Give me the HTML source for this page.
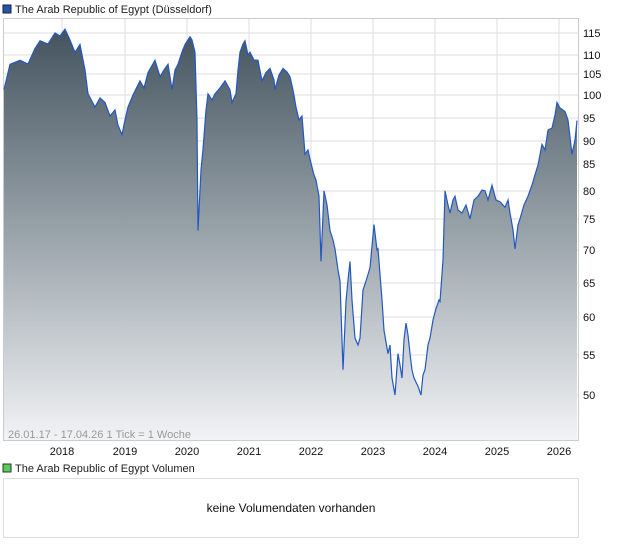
<!DOCTYPE html><html><head><style>body{margin:0;background:#fff;font-family:"Liberation Sans",sans-serif}</style></head><body>
<svg width="620" height="546" xmlns="http://www.w3.org/2000/svg" font-family="Liberation Sans, sans-serif">
<defs><linearGradient id="g" x1="0" y1="30" x2="0" y2="441" gradientUnits="userSpaceOnUse"><stop offset="0" stop-color="#44545f"/><stop offset="0.5" stop-color="#9aa4ab"/><stop offset="1" stop-color="#f2f3f5"/></linearGradient></defs>
<rect x="3" y="5" width="8" height="8" fill="#2255aa" stroke="#123"/>
<text x="15" y="13" font-size="11" fill="#222">The Arab Republic of Egypt (Düsseldorf)</text>
<rect x="3.5" y="18.5" width="575" height="422" fill="#fff" stroke="#ccc"/>
<g stroke="#ddd" stroke-width="1">
<line x1="62" y1="19" x2="62" y2="440"/><line x1="125" y1="19" x2="125" y2="440"/><line x1="187" y1="19" x2="187" y2="440"/><line x1="249" y1="19" x2="249" y2="440"/><line x1="311" y1="19" x2="311" y2="440"/><line x1="373" y1="19" x2="373" y2="440"/><line x1="435" y1="19" x2="435" y2="440"/><line x1="497" y1="19" x2="497" y2="440"/><line x1="559" y1="19" x2="559" y2="440"/>
<line x1="4" x2="578" y1="33" y2="33"/><line x1="4" x2="578" y1="55" y2="55"/><line x1="4" x2="578" y1="74" y2="74"/><line x1="4" x2="578" y1="95" y2="95"/><line x1="4" x2="578" y1="118" y2="118"/><line x1="4" x2="578" y1="141" y2="141"/><line x1="4" x2="578" y1="164" y2="164"/><line x1="4" x2="578" y1="191" y2="191"/><line x1="4" x2="578" y1="219" y2="219"/><line x1="4" x2="578" y1="250" y2="250"/><line x1="4" x2="578" y1="283" y2="283"/><line x1="4" x2="578" y1="317" y2="317"/><line x1="4" x2="578" y1="355" y2="355"/><line x1="4" x2="578" y1="395" y2="395"/>
</g>
<path id="p" d="M4,89.5 L10,64.3 L20,60.3 L28,64 L35,48.5 L40,40.7 L48,44 L55,33 L60,36 L65,29.2 L70,40 L75,52.3 L80,44.5 L85,70 L88,93.8 L95,107 L100,98 L105,102.5 L110,116 L115,110 L118,125.2 L122,134.7 L125,120 L128,107 L133,95 L140,80.9 L144,88 L148,72.6 L155,60.3 L158,70 L160,76.7 L164,70 L168,64.3 L172,89.5 L175,70 L178,64.3 L182,52 L185,44.5 L190,36.7 L192,40 L195,52.3 L197,120 L198,230.5 L201,170 L203,149.3 L206,110 L208,93.8 L212,100 L215,93.8 L220,88 L225,80.9 L230,90 L232,102.5 L236,93.8 L238,70 L240,52.3 L243,44 L245,40.7 L248,55 L250,52.3 L254,60 L258,60.3 L262,80.9 L266,72.6 L270,68.4 L274,80 L275,89.5 L279,75 L283,68.4 L287,72 L290,76.7 L293,90 L296,107 L299,120 L302,116 L305,154.2 L308,150 L310,159.2 L314,175 L316,180 L319,196.2 L321,261.4 L324,190.7 L327,205 L330,230.5 L333,240 L335,248.8 L338,270 L340,281 L343,369.7 L346,301.5 L348,280 L350,261.4 L352,300 L355,338.1 L358,345 L360,338.1 L363,290 L366,281 L370,267.8 L374,224.6 L377,250 L378,248.8 L380,274.3 L382,300 L384,330.5 L388,353.6 L390,345 L392,378 L395,395 L398,353.6 L400,365 L402,378 L404,340 L406,323.1 L408,335 L410,353.6 L412,370 L414,378 L418,386.4 L421,395 L423,375 L425,369.7 L428,345 L430,338.1 L433,320 L436,308.6 L439,300 L440,301.5 L443,260 L445,190.7 L448,205 L450,213 L453,200 L455,196.2 L458,210 L462,213 L466,205 L470,218.8 L474,200 L478,196.2 L482,190 L485,190.7 L488,200 L492,185.3 L496,200 L500,201.7 L505,207.3 L508,200 L510,213 L513,230 L515,248.8 L518,225 L520,218.8 L524,205 L528,196.2 L532,185 L535,174.8 L538,165 L542,144.4 L545,150 L548,130 L552,128 L555,115 L557,102.5 L560,108 L565,111.5 L568,120 L572,154.2 L575,140 L577,120.6" fill="none"/>
<path d="M4,89.5 L10,64.3 L20,60.3 L28,64 L35,48.5 L40,40.7 L48,44 L55,33 L60,36 L65,29.2 L70,40 L75,52.3 L80,44.5 L85,70 L88,93.8 L95,107 L100,98 L105,102.5 L110,116 L115,110 L118,125.2 L122,134.7 L125,120 L128,107 L133,95 L140,80.9 L144,88 L148,72.6 L155,60.3 L158,70 L160,76.7 L164,70 L168,64.3 L172,89.5 L175,70 L178,64.3 L182,52 L185,44.5 L190,36.7 L192,40 L195,52.3 L197,120 L198,230.5 L201,170 L203,149.3 L206,110 L208,93.8 L212,100 L215,93.8 L220,88 L225,80.9 L230,90 L232,102.5 L236,93.8 L238,70 L240,52.3 L243,44 L245,40.7 L248,55 L250,52.3 L254,60 L258,60.3 L262,80.9 L266,72.6 L270,68.4 L274,80 L275,89.5 L279,75 L283,68.4 L287,72 L290,76.7 L293,90 L296,107 L299,120 L302,116 L305,154.2 L308,150 L310,159.2 L314,175 L316,180 L319,196.2 L321,261.4 L324,190.7 L327,205 L330,230.5 L333,240 L335,248.8 L338,270 L340,281 L343,369.7 L346,301.5 L348,280 L350,261.4 L352,300 L355,338.1 L358,345 L360,338.1 L363,290 L366,281 L370,267.8 L374,224.6 L377,250 L378,248.8 L380,274.3 L382,300 L384,330.5 L388,353.6 L390,345 L392,378 L395,395 L398,353.6 L400,365 L402,378 L404,340 L406,323.1 L408,335 L410,353.6 L412,370 L414,378 L418,386.4 L421,395 L423,375 L425,369.7 L428,345 L430,338.1 L433,320 L436,308.6 L439,300 L440,301.5 L443,260 L445,190.7 L448,205 L450,213 L453,200 L455,196.2 L458,210 L462,213 L466,205 L470,218.8 L474,200 L478,196.2 L482,190 L485,190.7 L488,200 L492,185.3 L496,200 L500,201.7 L505,207.3 L508,200 L510,213 L513,230 L515,248.8 L518,225 L520,218.8 L524,205 L528,196.2 L532,185 L535,174.8 L538,165 L542,144.4 L545,150 L548,130 L552,128 L555,115 L557,102.5 L560,108 L565,111.5 L568,120 L572,154.2 L575,140 L577,120.6 L577,440 L4,440 Z" fill="url(#g)"/>
<use href="#p" stroke="#2358c0" stroke-width="1.2"/>
<g font-size="11" fill="#111">
<text x="583" y="37">115</text><text x="583" y="59">110</text><text x="583" y="78">105</text><text x="583" y="99">100</text><text x="583" y="122">95</text><text x="583" y="145">90</text><text x="583" y="168">85</text><text x="583" y="195">80</text><text x="583" y="223">75</text><text x="583" y="254">70</text><text x="583" y="287">65</text><text x="583" y="321">60</text><text x="583" y="359">55</text><text x="583" y="399">50</text>
</g>
<g font-size="11" fill="#111" text-anchor="middle">
<text x="62" y="455">2018</text><text x="125" y="455">2019</text><text x="187" y="455">2020</text><text x="249" y="455">2021</text><text x="311" y="455">2022</text><text x="373" y="455">2023</text><text x="435" y="455">2024</text><text x="497" y="455">2025</text><text x="559" y="455">2026</text>
</g>
<text x="8" y="438" font-size="11" fill="#999">26.01.17 - 17.04.26   1 Tick = 1 Woche</text>
<rect x="3" y="464" width="8" height="8" fill="#5c5" stroke="#333"/>
<text x="15" y="472" font-size="11" fill="#222">The Arab Republic of Egypt Volumen</text>
<rect x="3.5" y="478.5" width="575" height="59" fill="#fff" stroke="#ddd"/>
<text x="291" y="512" font-size="12" fill="#111" text-anchor="middle">keine Volumendaten vorhanden</text>
</svg>
</body></html>
